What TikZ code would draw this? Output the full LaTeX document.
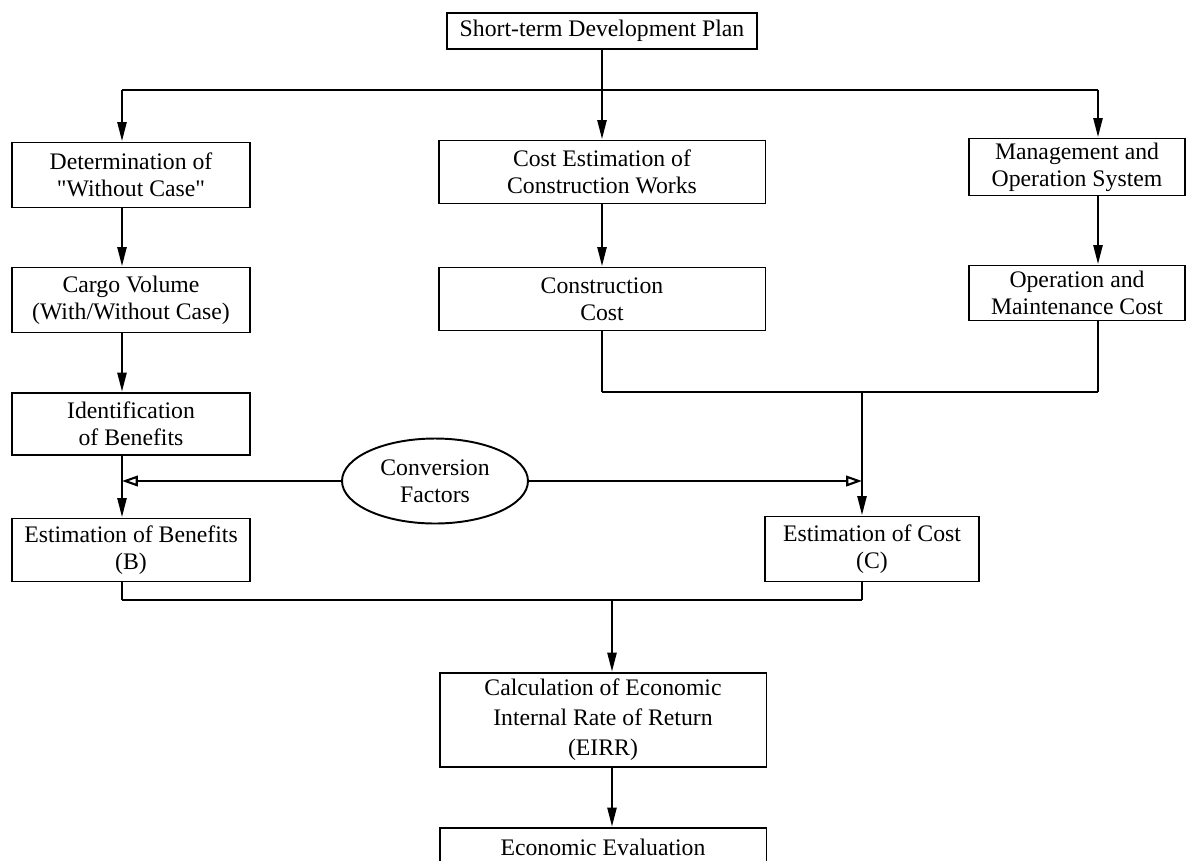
\documentclass[tikz,border=0pt]{standalone}
\usepackage{fontspec}
\setmainfont{Liberation Serif}
\usepackage{tikz}
\usetikzlibrary{arrows.meta, positioning, calc, shapes.geometric}

\begin{document}
\begin{tikzpicture}[x=0.02cm, y=-0.02cm,
    box/.style={draw, line width=1.1pt, align=center, inner sep=2pt,
      font=\fontsize{13.5}{15.5}\selectfont},
    flow/.style={line width=1.6pt, -{Triangle[length=11pt, width=5pt]}},
    conv/.style={line width=0.7pt, -{Triangle[open, length=9pt, width=6pt, line width=1.2pt]}},
    link/.style={line width=0.7pt},
    stem/.style={line width=1.6pt}]
  \useasboundingbox (0,0) rectangle (1187,860);
  \clip (0,0) rectangle (1187,860);
  % boxes
  \node[box, minimum width=6.2cm, minimum height=0.72cm] (plan) at (602,31) {Short-term Development Plan};
  \node[box, minimum width=4.76cm, minimum height=1.3cm] (without) at (131,175) {Determination of\\\textquotedbl Without Case\textquotedbl};
  \node[box, minimum width=4.76cm, minimum height=1.3cm] (cargo) at (131,300) {Cargo Volume\\(With/Without Case)};
  \node[box, minimum width=4.76cm, minimum height=1.24cm] (ident) at (131,424) {Identification\\of Benefits};
  \node[box, minimum width=4.76cm, minimum height=1.26cm] (benefit) at (131,550) {Estimation of Benefits\\(B)};
  \node[box, minimum width=6.54cm, minimum height=1.26cm] (works) at (602,172) {Cost Estimation of\\Construction Works};
  \node[box, minimum width=6.54cm, minimum height=1.26cm] (constr) at (602,299) {Construction\\Cost};
  \node[box, minimum width=4.32cm, minimum height=1.14cm] (manage) at (1077,167) {Management and\\Operation System};
  \node[box, minimum width=4.32cm, minimum height=1.1cm] (operation) at (1077,293) {Operation and\\Maintenance Cost};
  \node[box, ellipse, inner sep=0pt, minimum width=3.72cm, minimum height=1.7cm] (convf) at (435,481) {Conversion\\Factors};
  \node[box, minimum width=4.28cm, minimum height=1.3cm] (cost) at (872,549) {Estimation of Cost\\(C)};
  \node[box, minimum width=6.54cm, minimum height=1.88cm,
    font=\fontsize{13.5}{17}\selectfont] (eirr) at (603,720) {Calculation of Economic\\Internal Rate of Return\\(EIRR)};
  \node[box, minimum width=6.54cm, minimum height=0.76cm] (evaluation) at (603,847) {Economic Evaluation};
  % columns and junctions
  \coordinate (colL) at (122,90);
  \coordinate (colR) at (1098,90);
  \coordinate (jn) at (862,392);
  \coordinate (jb) at (612,600);
  % top split
  \draw[link] (colL) -- (colR);
  \draw[flow] (plan) -- (works);
  \draw[flow] (colL) -- (without.north -| colL);
  \draw[flow] (colR) -- (manage.north -| colR);
  % left column
  \draw[flow] (without.south -| colL) -- (cargo.north -| colL);
  \draw[flow] (cargo.south -| colL) -- (ident.north -| colL);
  \draw[flow] (ident.south -| colL) -- (benefit.north -| colL);
  % middle and right columns
  \draw[flow] (works) -- (constr);
  \draw[flow] (manage.south -| colR) -- (operation.north -| colR);
  % costs join
  \draw[stem] (constr.south) -- (constr.south |- jn);
  \draw[stem] (operation.south -| colR) -- (colR |- jn);
  \draw[link] (constr.south |- jn) -- (colR |- jn);
  \draw[flow] (jn) -- (cost.north -| jn);
  % conversion factors
  \draw[conv] (convf.west) -- (convf.west -| colL);
  \draw[conv] (convf.east) -- (convf.east -| jn);
  % B and C join
  \draw[stem] (benefit.south -| colL) -- (colL |- jb);
  \draw[stem] (cost.south -| jn) -- (jn |- jb);
  \draw[link] (colL |- jb) -- (jn |- jb);
  \draw[flow] (jb) -- (eirr.north -| jb);
  \draw[flow] (eirr.south -| jb) -- (evaluation.north -| jb);
\end{tikzpicture}
\end{document}
